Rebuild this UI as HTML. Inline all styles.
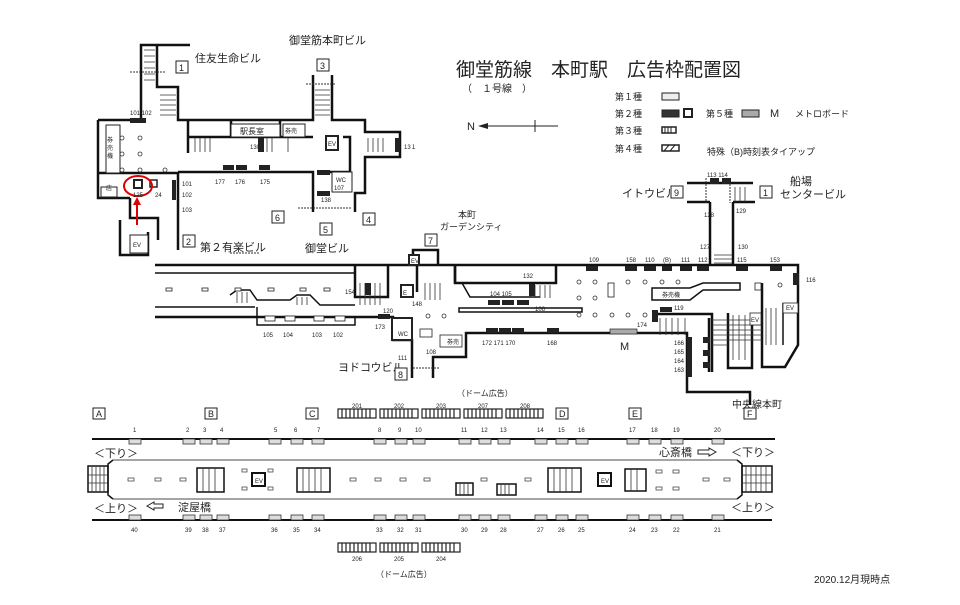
<!DOCTYPE html>
<html><head><meta charset="utf-8"><style>
html,body{margin:0;padding:0;background:#fff}
svg{display:block}
text{font-family:"Liberation Sans","Noto Sans CJK JP",sans-serif;fill:#222}
.s{font-size:6px}
.m{font-size:9px}
.l{font-size:11px}
</style></head><body>
<svg width="960" height="605" viewBox="0 0 960 605" xmlns="http://www.w3.org/2000/svg">
<rect width="960" height="605" fill="#fff"/>
<!-- Title / legend -->
<text x="456" y="76" style="font-size:19px">御堂筋線　本町駅　広告枠配置図</text>
<text x="462" y="92" style="font-size:10px">（　１号線　）</text>
<text x="467" y="130" class="l">N</text>
<line x1="480" y1="126" x2="558" y2="126" stroke="#222" stroke-width="1"/>
<polygon points="478,126 488,123 488,129" fill="#222"/>
<line x1="535" y1="120" x2="535" y2="132" stroke="#222"/>
<g class="m">
<text x="615" y="100">第１種</text><text x="615" y="117">第２種</text><text x="615" y="134">第３種</text><text x="615" y="152">第４種</text>
<text x="706" y="117">第５種</text><text x="770" y="117" class="l">M</text><text x="795" y="117">メトロボード</text>
<text x="707" y="155">特殊（B)時刻表タイアップ</text>
</g>
<rect x="662" y="93" width="17" height="7" fill="#eee" stroke="#222"/>
<rect x="662" y="110" width="17" height="7" fill="#333" stroke="#222"/>
<rect x="684" y="109" width="8" height="8" fill="#fff" stroke="#222" stroke-width="2"/>
<rect x="742" y="110" width="17" height="7" fill="#aaa" stroke="#222"/>
<rect x="662" y="127" width="14" height="6" fill="#fff" stroke="#222" stroke-width="1.5"/>
<path d="M665,127v6M668,127v6M671,127v6" stroke="#222"/>
<rect x="662" y="145" width="17" height="6" fill="#fff" stroke="#222" stroke-width="1.5"/>
<path d="M664,151l5,-6M670,151l5,-6" stroke="#222"/>

<!-- Top-left station area -->
<g fill="none" stroke="#111" stroke-width="2.5">
<path d="M98,120 H141 V45 H190"/>
<path d="M157,45 V87 H178 V120 H188"/>
<path d="M188,120 V153"/>
<path d="M98,120 V198 H130"/>
<path d="M98,173 H178 V250"/>
<path d="M178,172 H313 V212"/>
<path d="M188,137 H313"/>
<path d="M188,120 H313 V75"/>
<path d="M332,75 V120 H365 V132 H400 V157 H365 V193 H355 V212"/>
<path d="M343,137 H350 V172 H330"/>
<path d="M231,120 V137 M280,120 V137"/>
<path d="M130,198 V218 H158 V240"/>
<path d="M120,220 V255 H148 V232"/>
</g>
<path d="M188,120 V137" stroke="#111" stroke-width="1"/>
<path d="M130,72H165 M306,84H335 M230,253H260 M298,208H352" stroke="#333" stroke-dasharray="2,1"/>
<g stroke="#333" stroke-width="0.8">
<path d="M144,50H155M144,56H155M144,62H155M144,68H155M144,74H155M144,80H155M160,95H176M160,100H176M160,105H176M160,110H176M160,115H176"/>
<path d="M315,90H330M315,95H330M315,100H330M315,105H330M315,110H330M315,115H330"/>
<path d="M195,138V152M200,138V152M205,138V152M210,138V152M262,138V152M267,138V152M272,138V152M288,138V152M368,138V152M373,138V152M378,138V152M383,138V152"/>
</g>
<g fill="#222">
<rect x="130" y="118" width="16" height="5"/>
<rect x="223" y="165" width="11" height="5"/><rect x="236" y="165" width="11" height="5"/><rect x="259" y="165" width="11" height="5"/>
<rect x="258" y="138" width="6" height="14"/><rect x="395" y="138" width="5" height="14"/>
<rect x="317" y="170" width="13" height="5"/><rect x="317" y="191" width="13" height="5"/>
<rect x="172" y="180" width="4" height="20"/>
</g>
<g fill="#fff" stroke="#222">
<rect x="106" y="125" width="14" height="48"/>
<rect x="101" y="187" width="16" height="10"/>
<rect x="231" y="124" width="49" height="13"/>
<rect x="283" y="124" width="22" height="13"/>
<rect x="326" y="136" width="12" height="14" stroke-width="2"/>
<rect x="332" y="172" width="20" height="20"/>
<rect x="130" y="235" width="18" height="18"/>
<rect x="134" y="180" width="8" height="8" stroke-width="2"/>
<rect x="150" y="180" width="7" height="7" stroke-width="1.5"/>
</g>
<g fill="none" stroke="#333" stroke-width="0.8">
<circle cx="122" cy="138" r="2"/><circle cx="140" cy="138" r="2"/><circle cx="122" cy="154" r="2"/><circle cx="140" cy="154" r="2"/><circle cx="122" cy="170" r="2"/><circle cx="140" cy="170" r="2"/><circle cx="165" cy="170" r="2"/>
</g>
<ellipse cx="138" cy="186" rx="14" ry="10" fill="none" stroke="#d00" stroke-width="2"/>
<path d="M137,225V200" stroke="#d00" stroke-width="2"/><polygon points="137,197 133,205 141,205" fill="#d00"/>
<g class="s">
<text x="130" y="115">101 102</text><text x="250" y="149">130</text><text x="404" y="149">13１</text>
<text x="215" y="184">177</text><text x="235" y="184">176</text><text x="260" y="184">175</text>
<text x="182" y="186">101</text><text x="182" y="197">102</text><text x="182" y="212">103</text>
<text x="133" y="197">125</text><text x="155" y="197">24</text>
<text x="321" y="202">138</text><text x="334" y="190">107</text><text x="336" y="182">WC</text>
<text x="106" y="190">店</text><text x="133" y="247">EV</text>
<text x="107" y="142">券</text><text x="107" y="150">売</text><text x="107" y="158">機</text>
<text x="240" y="134" style="font-size:8px">駅長室</text><text x="285" y="133">券売</text><text x="328" y="146">EV</text>
</g>
<g class="l">
<text x="195" y="62">住友生命ビル</text><text x="289" y="44">御堂筋本町ビル</text>
<text x="200" y="251">第２有楽ビル</text><text x="305" y="252">御堂ビル</text>
<text x="458" y="218" style="font-size:9px">本町</text><text x="440" y="230" style="font-size:9px">ガーデンシティ</text>
<text x="622" y="197">イトウビル</text><text x="790" y="185">船場</text><text x="780" y="198">センタービル</text>
<text x="338" y="371">ヨドコウビル</text><text x="732" y="408" style="font-size:10px">中央線本町</text>
</g>
<g fill="#fff" stroke="#222"><rect x="176" y="61" width="12" height="12"/><rect x="183" y="235" width="12" height="12"/><rect x="317" y="59" width="12" height="12"/><rect x="272" y="211" width="12" height="12"/><rect x="320" y="223" width="12" height="12"/><rect x="363" y="213" width="12" height="12"/><rect x="425" y="234" width="12" height="12"/><rect x="671" y="186" width="12" height="12"/><rect x="760" y="186" width="12" height="12"/><rect x="395" y="368" width="12" height="12"/></g>
<g class="m"><text x="179" y="71">1</text><text x="186" y="245">2</text><text x="320" y="69">3</text><text x="275" y="221">6</text><text x="323" y="233">5</text><text x="366" y="223">4</text><text x="428" y="244">7</text><text x="674" y="196">9</text><text x="763" y="196">1</text><text x="398" y="378">8</text></g>

<!-- Concourse -->
<g fill="none" stroke="#111" stroke-width="2.5">
<path d="M155,265 H798 V345 L785,367 H762 V283"/>
<path d="M155,317 H393 V340 H412 V378"/>
<path d="M433,378 V357 H466 V333 H687 V392 H750 V405"/>
<path d="M413,265 V250 H438 V265 M455,265 V283 H556 V265 M710,265 V202 M733,265 V202"/>
<path d="M355,265 V297 H388 V265"/>
<path d="M417,265 V292 M455,283 V265"/>
<path d="M687,183 H753 M687,202 H710 M733,202 H755"/>
<path d="M652,314 H712 V372 M709,318 V372"/>
<path d="M728,313 V368 H752 V313"/>
</g>
<g fill="none" stroke="#111" stroke-width="1.5">
<path d="M155,273 H355 M155,307 H255"/>
<path d="M230,295 L237,290 H250 L257,300 H290 L297,295 H310 L320,305 H355"/>
<path d="M257,307 V325 H355 V317"/>
<path d="M462,283 L470,297 H540"/>
<rect x="459" y="308" width="123" height="4"/>
<path d="M652,288 H690 L703,283 H740 V290 H703 L690,300 H652 Z"/>
<path d="M783,303 V345"/>
</g>
<path d="M413,368H440 M730,178V203 M706,178V203" stroke="#333" stroke-dasharray="2,1"/>
<g stroke="#333" stroke-width="0.8">
<path d="M360,283V305M365,283V305M370,283V305M375,283V305M380,283V305M425,283V300M430,283V300M435,283V300M440,283V300M530,285V298M535,285V298M540,285V298M545,285V298M550,285V298"/>
<path d="M237,292V303M242,292V303M247,292V303M297,297V305M302,297V305M307,297V305"/>
<path d="M714,255H732M714,259H732M714,263H732M735,187V202M740,187V202M745,187V202"/>
<path d="M660,318V335M666,318V335M672,318V335M678,318V335M685,318V335"/>
<path d="M712,320H762M712,325H762M712,330H762M712,335H762M712,340H762M712,345H728"/>
<path d="M733,315V360M739,315V360M745,315V360M766,308V345M771,308V345M776,308V345"/>
</g>
<g fill="#222">
<rect x="586" y="266" width="12" height="5"/><rect x="625" y="266" width="12" height="5"/><rect x="644" y="266" width="12" height="5"/><rect x="662" y="266" width="10" height="5"/><rect x="680" y="266" width="12" height="5"/><rect x="697" y="266" width="12" height="5"/><rect x="736" y="266" width="12" height="5"/><rect x="770" y="266" width="12" height="5"/>
<rect x="793" y="273" width="6" height="12"/>
<rect x="365" y="283" width="6" height="12"/><rect x="529" y="284" width="6" height="12"/>
<rect x="488" y="300" width="12" height="5"/><rect x="502" y="300" width="12" height="5"/><rect x="517" y="300" width="12" height="5"/>
<rect x="378" y="314" width="12" height="5"/>
<rect x="486" y="328" width="12" height="5"/><rect x="499" y="328" width="12" height="5"/><rect x="512" y="328" width="12" height="5"/><rect x="547" y="328" width="12" height="5"/>
<rect x="652" y="310" width="6" height="12"/><rect x="660" y="307" width="12" height="5"/>
<rect x="687" y="337" width="5" height="40"/><rect x="703" y="337" width="7" height="6"/><rect x="703" y="350" width="7" height="6"/><rect x="703" y="362" width="7" height="6"/>
<rect x="710" y="178" width="9" height="6"/><rect x="722" y="178" width="9" height="6"/>
</g>
<rect x="610" y="329" width="27" height="5" fill="#aaa" stroke="#222" stroke-width="0.7"/>
<g fill="#fff" stroke="#222" stroke-width="0.8">
<rect x="166" y="288" width="6" height="3"/><rect x="202" y="288" width="6" height="3"/><rect x="235" y="288" width="6" height="3"/><rect x="268" y="288" width="6" height="3"/><rect x="300" y="288" width="6" height="3"/><rect x="324" y="288" width="6" height="3"/>
<rect x="265" y="316" width="10" height="5"/><rect x="285" y="316" width="10" height="5"/><rect x="314" y="316" width="10" height="5"/><rect x="335" y="316" width="10" height="5"/>
<rect x="401" y="285" width="12" height="12" stroke-width="2"/>
<rect x="420" y="329" width="12" height="8"/><rect x="440" y="335" width="22" height="12"/>
<rect x="392" y="318" width="20" height="22" stroke-width="2"/>
<rect x="608" y="283" width="6" height="14"/>
<rect x="409" y="255" width="10" height="10" stroke-width="2"/>
<rect x="783" y="303" width="15" height="10"/><rect x="750" y="313" width="11" height="12"/><rect x="755" y="283" width="6" height="7"/>
</g>
<g fill="none" stroke="#333" stroke-width="0.8">
<circle cx="579" cy="282" r="2"/><circle cx="595" cy="282" r="2"/><circle cx="628" cy="282" r="2"/><circle cx="645" cy="282" r="2"/><circle cx="662" cy="282" r="2"/><circle cx="678" cy="282" r="2"/>
<circle cx="579" cy="298" r="2"/><circle cx="595" cy="298" r="2"/><circle cx="579" cy="315" r="2"/><circle cx="595" cy="315" r="2"/><circle cx="612" cy="315" r="2"/><circle cx="628" cy="315" r="2"/><circle cx="645" cy="315" r="2"/><circle cx="428" cy="316" r="2"/><circle cx="444" cy="316" r="2"/><circle cx="780" cy="285" r="2"/>
</g>
<g class="s">
<text x="589" y="262">109</text><text x="626" y="262">158</text><text x="645" y="262">110</text><text x="663" y="262">(B)</text><text x="681" y="262">111</text><text x="698" y="262">112</text><text x="737" y="262">115</text><text x="770" y="262">153</text><text x="806" y="282">116</text>
<text x="704" y="217">128</text><text x="736" y="213">129</text><text x="700" y="249">127</text><text x="738" y="249">130</text><text x="707" y="177">113 114</text>
<text x="345" y="294">154</text><text x="383" y="313">120</text><text x="375" y="329">173</text><text x="412" y="306">148</text>
<text x="263" y="337">105</text><text x="283" y="337">104</text><text x="312" y="337">103</text><text x="333" y="337">102</text>
<text x="523" y="278">132</text><text x="490" y="296">104 105</text><text x="535" y="311">106</text>
<text x="482" y="345">172 171 170</text><text x="547" y="345">168</text><text x="637" y="327">174</text><text x="674" y="310">119</text>
<text x="674" y="345">166</text><text x="674" y="354">165</text><text x="674" y="363">164</text><text x="674" y="372">163</text>
<text x="398" y="336">WC</text><text x="447" y="344">券売</text><text x="398" y="360">111</text><text x="426" y="354">108</text>
<text x="662" y="297">券売機</text><text x="786" y="310">EV</text><text x="751" y="322">EV</text><text x="411" y="263">EV</text><text x="403" y="295">E</text>
</g>
<text x="620" y="350" class="l" fill="#555">M</text>
<text x="457" y="396" style="font-size:8px">（ドーム広告）</text>

<!-- Platform -->
<g fill="none" stroke="#111">
<path d="M92,439 H775" stroke-width="2"/>
<path d="M92,520 H772" stroke-width="2"/>
<path d="M113,460 H737 M113,499 H737" stroke-width="0.8"/>
<path d="M113,460 L108,464 V495 L113,499 M737,460 L742,464 V495 L737,499" stroke-width="1.5"/>
</g>
<g fill="none" stroke="#111" stroke-width="1.5">
<rect x="88" y="466" width="20" height="26"/><rect x="742" y="466" width="30" height="26"/>
<rect x="197" y="468" width="27" height="24"/><rect x="297" y="468" width="33" height="24"/><rect x="548" y="468" width="33" height="24"/><rect x="625" y="469" width="21" height="22"/>
<rect x="456" y="483" width="17" height="12"/><rect x="497" y="484" width="19" height="11"/>
<rect x="252" y="473" width="13" height="13" stroke-width="2"/><rect x="598" y="473" width="13" height="13" stroke-width="2"/>
</g>
<g stroke="#333" stroke-width="0.8">
<path d="M92,466V492M96,466V492M100,466V492M104,466V492M746,466V492M751,466V492M756,466V492M761,466V492M766,466V492M88,475H108M88,483H108M742,475H772M742,483H772"/>
<path d="M203,468V492M209,468V492M215,468V492M303,468V492M309,468V492M315,468V492M321,468V492M554,468V492M560,468V492M566,468V492M572,468V492M631,469V491M637,469V491M460,483V495M464,483V495M468,483V495M501,484V495M505,484V495M509,484V495"/>
</g>
<g fill="#ddd" stroke="#333" stroke-width="0.8">
<rect x="129" y="439" width="12" height="5"/><rect x="183" y="439" width="12" height="5"/><rect x="200" y="439" width="12" height="5"/><rect x="217" y="439" width="12" height="5"/><rect x="269" y="439" width="12" height="5"/><rect x="291" y="439" width="12" height="5"/><rect x="312" y="439" width="12" height="5"/><rect x="374" y="439" width="12" height="5"/><rect x="395" y="439" width="12" height="5"/><rect x="413" y="439" width="12" height="5"/><rect x="459" y="439" width="12" height="5"/><rect x="479" y="439" width="12" height="5"/><rect x="498" y="439" width="12" height="5"/><rect x="535" y="439" width="12" height="5"/><rect x="556" y="439" width="12" height="5"/><rect x="576" y="439" width="12" height="5"/><rect x="627" y="439" width="12" height="5"/><rect x="649" y="439" width="12" height="5"/><rect x="671" y="439" width="12" height="5"/><rect x="712" y="439" width="12" height="5"/>
<rect x="129" y="515" width="12" height="5"/><rect x="183" y="515" width="12" height="5"/><rect x="200" y="515" width="12" height="5"/><rect x="217" y="515" width="12" height="5"/><rect x="269" y="515" width="12" height="5"/><rect x="291" y="515" width="12" height="5"/><rect x="312" y="515" width="12" height="5"/><rect x="374" y="515" width="12" height="5"/><rect x="395" y="515" width="12" height="5"/><rect x="413" y="515" width="12" height="5"/><rect x="459" y="515" width="12" height="5"/><rect x="479" y="515" width="12" height="5"/><rect x="498" y="515" width="12" height="5"/><rect x="535" y="515" width="12" height="5"/><rect x="556" y="515" width="12" height="5"/><rect x="576" y="515" width="12" height="5"/><rect x="627" y="515" width="12" height="5"/><rect x="649" y="515" width="12" height="5"/><rect x="671" y="515" width="12" height="5"/><rect x="712" y="515" width="12" height="5"/>
</g>
<g fill="#fff" stroke="#333" stroke-width="0.7">
<rect x="128" y="478" width="6" height="3"/><rect x="155" y="478" width="6" height="3"/><rect x="180" y="478" width="6" height="3"/><rect x="350" y="478" width="6" height="3"/><rect x="375" y="478" width="6" height="3"/><rect x="400" y="478" width="6" height="3"/><rect x="424" y="478" width="6" height="3"/><rect x="481" y="478" width="6" height="3"/><rect x="525" y="478" width="6" height="3"/><rect x="656" y="470" width="6" height="3"/><rect x="673" y="470" width="6" height="3"/><rect x="656" y="487" width="6" height="3"/><rect x="673" y="487" width="6" height="3"/><rect x="703" y="478" width="6" height="3"/><rect x="724" y="478" width="6" height="3"/>
<rect x="242" y="469" width="5" height="3"/><rect x="268" y="469" width="5" height="3"/><rect x="242" y="487" width="5" height="3"/><rect x="268" y="487" width="5" height="3"/>
</g>
<g class="s">
<text x="133" y="432">1</text><text x="186" y="432">2</text><text x="203" y="432">3</text><text x="220" y="432">4</text><text x="274" y="432">5</text><text x="294" y="432">6</text><text x="317" y="432">7</text><text x="378" y="432">8</text><text x="398" y="432">9</text><text x="415" y="432">10</text><text x="461" y="432">11</text><text x="481" y="432">12</text><text x="500" y="432">13</text><text x="537" y="432">14</text><text x="558" y="432">15</text><text x="578" y="432">16</text><text x="629" y="432">17</text><text x="651" y="432">18</text><text x="673" y="432">19</text><text x="714" y="432">20</text>
<text x="131" y="532">40</text><text x="185" y="532">39</text><text x="202" y="532">38</text><text x="219" y="532">37</text><text x="271" y="532">36</text><text x="293" y="532">35</text><text x="314" y="532">34</text><text x="376" y="532">33</text><text x="397" y="532">32</text><text x="415" y="532">31</text><text x="461" y="532">30</text><text x="481" y="532">29</text><text x="500" y="532">28</text><text x="537" y="532">27</text><text x="558" y="532">26</text><text x="578" y="532">25</text><text x="629" y="532">24</text><text x="651" y="532">23</text><text x="673" y="532">22</text><text x="714" y="532">21</text>
<text x="352" y="408">201</text><text x="394" y="408">202</text><text x="436" y="408">203</text><text x="478" y="408">207</text><text x="520" y="408">208</text>
<text x="352" y="561">206</text><text x="394" y="561">205</text><text x="436" y="561">204</text>
<text x="255" y="483">EV</text><text x="601" y="483">EV</text>
</g>
<g fill="#fff" stroke="#222" stroke-width="1.2">
<rect x="338" y="409" width="38" height="9"/><rect x="380" y="409" width="38" height="9"/><rect x="422" y="409" width="38" height="9"/><rect x="464" y="409" width="38" height="9"/><rect x="506" y="409" width="37" height="9"/>
<rect x="338" y="543" width="38" height="9"/><rect x="380" y="543" width="38" height="9"/><rect x="422" y="543" width="38" height="9"/>
</g>
<g stroke="#222" stroke-width="1.2">
<path d="M342,409v9M346,409v9M350,409v9M354,409v9M358,409v9M362,409v9M366,409v9M370,409v9M384,409v9M388,409v9M392,409v9M396,409v9M400,409v9M404,409v9M408,409v9M412,409v9M426,409v9M430,409v9M434,409v9M438,409v9M442,409v9M446,409v9M450,409v9M454,409v9M468,409v9M472,409v9M476,409v9M480,409v9M484,409v9M488,409v9M492,409v9M496,409v9M510,409v9M514,409v9M518,409v9M522,409v9M526,409v9M530,409v9M534,409v9M538,409v9"/>
<path d="M342,543v9M346,543v9M350,543v9M354,543v9M358,543v9M362,543v9M366,543v9M370,543v9M384,543v9M388,543v9M392,543v9M396,543v9M400,543v9M404,543v9M408,543v9M412,543v9M426,543v9M430,543v9M434,543v9M438,543v9M442,543v9M446,543v9M450,543v9M454,543v9"/>
</g>
<text x="376" y="577" style="font-size:8px">（ドーム広告）</text>
<g fill="#fff" stroke="#222"><rect x="93" y="408" width="12" height="11"/><rect x="205" y="408" width="12" height="11"/><rect x="306" y="408" width="12" height="11"/><rect x="556" y="408" width="12" height="11"/><rect x="629" y="408" width="12" height="11"/><rect x="744" y="408" width="12" height="11"/></g>
<g class="m"><text x="96" y="417">A</text><text x="208" y="417">B</text><text x="309" y="417">C</text><text x="559" y="417">D</text><text x="632" y="417">E</text><text x="747" y="417">F</text></g>
<g class="l">
<text x="94" y="457">＜下り＞</text><text x="94" y="512">＜上り＞</text><text x="178" y="511">淀屋橋</text>
<text x="659" y="456">心斎橋</text><text x="731" y="456">＜下り＞</text><text x="731" y="511">＜上り＞</text>
</g>
<path d="M147,506 L154,502 V504 H163 V508 H154 V510 Z" fill="#fff" stroke="#222"/>
<path d="M716,452 L709,448 V450 H698 V454 H709 V456 Z" fill="#fff" stroke="#222"/>
<text x="814" y="583" style="font-size:10px">2020.12月現時点</text>
</svg>
</body></html>
